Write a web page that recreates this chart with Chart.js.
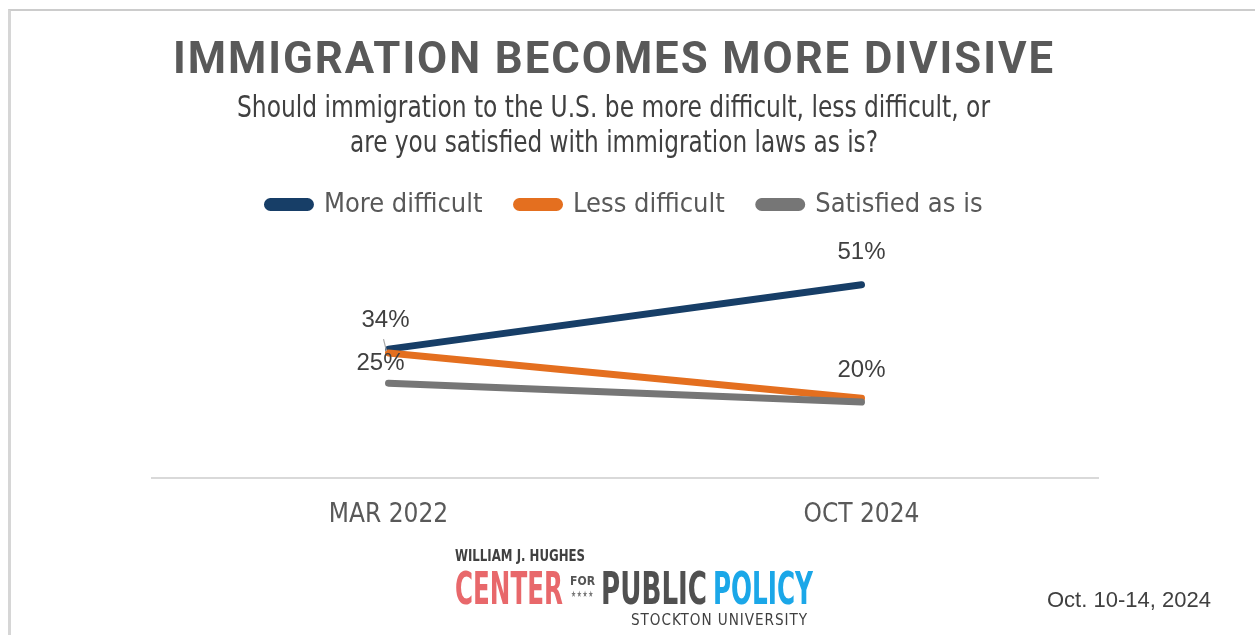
<!DOCTYPE html>
<html>
<head>
<meta charset="utf-8">
<script src="https://cdn.jsdelivr.net/npm/chart.js@4.4.1/dist/chart.umd.min.js"></script>
<style>
  body { margin: 0; background: #fff; width: 1255px; height: 635px; overflow: hidden; position: relative;
         font-family: 'Liberation Sans Narrow', 'DejaVu Sans Condensed', 'Liberation Sans', sans-serif; }
  #frame { position: absolute; left: 8px; top: 9px; right: 0; bottom: 0;
           border-top: 2px solid #cccccc; border-left: 3px solid #d6d6d6; }
  canvas { position: absolute; left: 0; top: 0; }
  .txt { position: absolute; white-space: nowrap; line-height: 1; transform-origin: left top; }
  #title { left: 173px; top: 35px; font-family: Roboto, sans-serif; font-weight: 700; font-size: 45px;
           color: #595959; letter-spacing: 2px; }
  .sub { font-size: 30px; color: #404040; }
  #date { left: 1047px; top: 589px; font-family: 'Liberation Sans', Arial, sans-serif; font-size: 22px; color: #404040; }
  .logo { font-weight: 700; }
</style>
</head>
<body>
<div id="frame"></div>
<canvas id="chart" width="1255" height="635"></canvas>

<div class="txt" id="title" data-w="882">IMMIGRATION BECOMES MORE DIVISIVE</div>
<div class="txt sub" style="left:237px; top:92px;" data-w="753">Should immigration to the U.S. be more difficult, less difficult, or</div>
<div class="txt sub" style="left:350px; top:127px;" data-w="528">are you satisfied with immigration laws as is?</div>

<div class="txt logo" style="left:455px; top:548px; font-size:16px; color:#404040;" data-w="130">WILLIAM J. HUGHES</div>
<div class="txt logo" style="left:455px; top:567px; font-size:44px; color:#e8686b;" data-w="108">CENTER</div>
<div class="txt logo" style="left:570px; top:574px; font-size:13px; color:#555555;" data-w="25">FOR</div>
<div class="txt logo" style="left:571px; top:590px; font-size:9px; color:#777777; letter-spacing:1px;" data-w="23">★★★★</div>
<div class="txt logo" style="left:601px; top:567px; font-size:44px; color:#505050;" data-w="106">PUBLIC</div>
<div class="txt logo" style="left:713px; top:567px; font-size:44px; color:#1ba7e8;" data-w="100">POLICY</div>
<div class="txt" style="left:631px; top:612px; font-size:16px; color:#404040; letter-spacing:1px;" data-w="177">STOCKTON UNIVERSITY</div>

<div class="txt" id="date">Oct. 10-14, 2024</div>

<script>
const categories = ['MAR 2022', 'OCT 2024'];
const seriesNames = ['More difficult', 'Less difficult', 'Satisfied as is'];
const moreDifficult = [34, 51];
const lessDifficult = [33, 21];
const satisfiedAsIs = [25, 20];
const labelValues = [
  ['34%', '51%'],
  [null, null],
  ['25%', '20%']
];

// stretch the html texts to the widths measured on the reference
document.querySelectorAll('[data-w]').forEach(el => {
  const w = el.getBoundingClientRect().width;
  el.style.transform = 'scaleX(' + (parseFloat(el.dataset.w) / w) + ')';
});

const colors = ['#173e67', '#e46f1f', '#767676'];

// where each value label sits relative to its point
const labelOffsets = [
  [[-3, -29], [0, -32]],
  [[0, 0], [0, 0]],
  [[-8, -20], [0, -32]]
];

const valueLabels = {
  id: 'valueLabels',
  afterDatasetsDraw(chart) {
    const ctx = chart.ctx;
    ctx.save();
    ctx.font = '24px "Liberation Sans", Arial, sans-serif';
    ctx.fillStyle = '#404040';
    ctx.textAlign = 'center';
    ctx.textBaseline = 'middle';
    chart.data.datasets.forEach((ds, i) => {
      const meta = chart.getDatasetMeta(i);
      labelValues[i].forEach((txt, j) => {
        if (!txt) return;
        const pt = meta.data[j];
        ctx.fillText(txt, pt.x + labelOffsets[i][j][0], pt.y + labelOffsets[i][j][1]);
      });
    });
    // little leader line under the first label
    const p = chart.getDatasetMeta(0).data[0];
    ctx.strokeStyle = '#a6a6a6';
    ctx.lineWidth = 1.2;
    ctx.beginPath();
    ctx.moveTo(p.x - 5, p.y - 10);
    ctx.lineTo(p.x - 2, p.y + 2);
    ctx.stroke();
    ctx.restore();
  }
};

function makeDataset(i, values, order) {
  return {
    label: seriesNames[i],
    data: values,
    borderColor: colors[i],
    backgroundColor: colors[i],
    borderWidth: 7,
    borderCapStyle: 'round',
    pointRadius: 0,
    tension: 0,
    fill: false,
    order: order
  };
}

const condensed = "'Liberation Sans Narrow', 'DejaVu Sans Condensed', 'Liberation Sans', sans-serif";

const ctx = document.getElementById('chart').getContext('2d');
new Chart(ctx, {
  type: 'line',
  data: {
    labels: categories,
    datasets: [
      makeDataset(0, moreDifficult, 3),
      makeDataset(1, lessDifficult, 2),
      makeDataset(2, satisfiedAsIs, 1)
    ]
  },
  options: {
    responsive: false,
    animation: false,
    layout: { padding: { left: 152, right: 157, top: 157, bottom: 90 } },
    plugins: {
      tooltip: { enabled: false },
      legend: {
        position: 'top',
        labels: {
          sort: (a, b) => a.datasetIndex - b.datasetIndex,
          boxWidth: 43,
          boxHeight: 6,
          useBorderRadius: true,
          borderRadius: 3,
          padding: 34,
          color: '#595959',
          font: { family: condensed, size: 27 }
        }
      }
    },
    scales: {
      x: {
        offset: true,
        grid: { display: false },
        border: { display: true, color: '#d9d9d9', width: 2 },
        ticks: {
          padding: 14,
          color: '#595959',
          font: { family: condensed, size: 26 }
        }
      },
      y: {
        display: false,
        min: 0,
        max: 66
      }
    }
  },
  plugins: [valueLabels]
});
</script>
</body>
</html>
